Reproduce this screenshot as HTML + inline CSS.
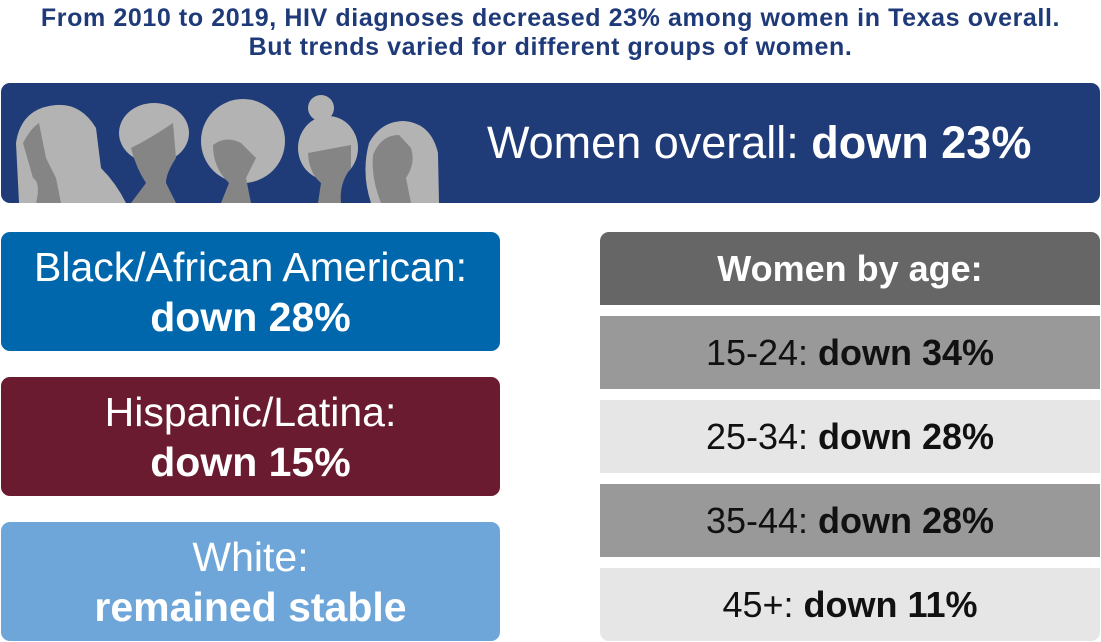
<!DOCTYPE html>
<html><head><style>
body{margin:0;width:1101px;height:642px;background:#fff;font-family:"Liberation Sans",sans-serif;position:relative;overflow:hidden}
.a{position:absolute;box-sizing:border-box}
.t{left:0;width:1101px;text-align:center;color:#1f3a78;font-weight:bold;font-size:25px;letter-spacing:0.6px;line-height:28px;white-space:nowrap}
.box{border-radius:9px;display:flex;flex-direction:column;justify-content:center;align-items:center;color:#fff;font-size:41px;line-height:50px;text-align:center}
.row{left:600px;width:500px;height:73px;display:flex;align-items:center;justify-content:center;font-size:36px;color:#111}
b{font-weight:bold}
</style></head><body>
<div class="a t" style="top:4px">From 2010 to 2019, HIV diagnoses decreased 23% among women in Texas overall.</div>
<div class="a t" style="top:33px">But trends varied for different groups of women.</div>
<div class="a" style="left:1px;top:83px;width:1099px;height:120px;background:#1f3b78;border-radius:9px;overflow:hidden">
<svg width="480" height="120" style="position:absolute;left:0;top:0">
<g fill="#b3b3b3">
<path d="M18,120 L15,60 Q20,25 55,22 Q80,20 95,45 L100,85 Q115,100 125,120Z"/>
<ellipse cx="153" cy="50" rx="35" ry="30"/>
<circle cx="242" cy="58" r="42"/>
<circle cx="320" cy="25" r="13"/>
<ellipse cx="327" cy="65" rx="30" ry="32"/>
<path d="M370,120 Q360,90 368,60 Q380,38 403,38 Q430,40 437,70 L438,120Z"/>
</g>
<g fill="#858585">
<path d="M22,60 Q30,45 38,40 L45,75 L55,95 L60,120 L35,120 Q40,100 32,95Z"/>
<path d="M130,65 Q150,55 172,40 L175,75 Q165,90 165,100 L175,120 L130,120 L145,100 Q135,85 130,65Z"/>
<path d="M212,62 Q225,52 240,60 L255,75 L245,95 L250,120 L220,120 L228,100 Q212,85 212,62Z"/>
<path d="M307,70 L350,62 L350,85 Q338,100 340,120 L317,120 L320,100 Q308,90 307,70Z"/>
<path d="M372,72 Q380,52 398,52 L410,65 Q415,80 405,95 L410,120 L380,120 Q370,95 372,72Z"/>
</g>
</svg>
<div class="a" style="left:486px;top:35px;font-size:45px;color:#fff;line-height:50px;white-space:nowrap">Women overall: <b>down 23%</b></div>
</div>
<div class="a box" style="left:1px;top:232px;width:499px;height:119px;background:#0067ad">Black/African American:<b>down 28%</b></div>
<div class="a box" style="left:1px;top:377px;width:499px;height:119px;background:#6a1b2f">Hispanic/Latina:<b>down 15%</b></div>
<div class="a box" style="left:1px;top:522px;width:499px;height:119px;background:#6fa6d9">White:<b>remained stable</b></div>
<div class="a row" style="top:232px;background:#666;color:#fff;border-radius:9px 9px 0 0;font-weight:bold">Women by age:</div>
<div class="a row" style="top:316px;background:#999">15-24:&nbsp;<b>down 34%</b></div>
<div class="a row" style="top:400px;background:#e6e6e6">25-34:&nbsp;<b>down 28%</b></div>
<div class="a row" style="top:484px;background:#999">35-44:&nbsp;<b>down 28%</b></div>
<div class="a row" style="top:568px;background:#e6e6e6;border-radius:0 0 9px 9px">45+:&nbsp;<b>down 11%</b></div>
</body></html>
